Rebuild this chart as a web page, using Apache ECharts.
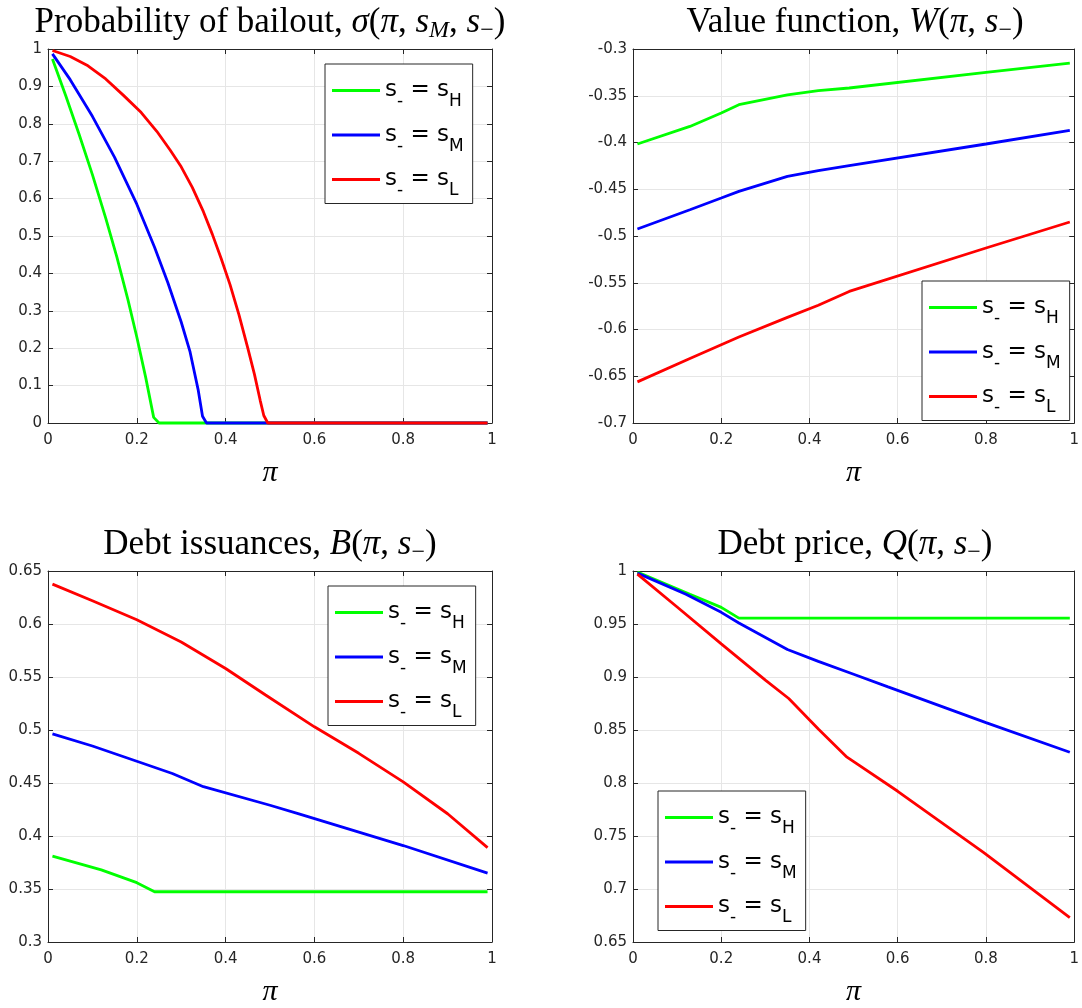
<!DOCTYPE html>
<html>
<head>
<meta charset="utf-8">
<title>Bailout model policy functions</title>
<script src="https://cdn.jsdelivr.net/npm/echarts@6/dist/echarts.min.js"></script>
</head>
<body style="margin:0;padding:0;">
<div id="main" style="width:1082px;height:1008px;"></div>
<script type="text/javascript">
// series names (s_- = s_H, s_M, s_L) and their colours
const states = ['H', 'M', 'L'];
const colors = ['#00ff00', '#0000ff', '#ff0000'];

// Probability of bailout, sigma(pi, s_M, s_-)
const sigmaH = [[0.01, 0.973], [0.04, 0.875], [0.07, 0.772], [0.1, 0.664], [0.13, 0.548], [0.155, 0.444], [0.18, 0.33], [0.2, 0.23], [0.22, 0.122], [0.238, 0.015], [0.25, 0], [0.99, 0]];
const sigmaM = [[0.01, 0.987], [0.05, 0.918], [0.1, 0.82], [0.15, 0.71], [0.2, 0.585], [0.24, 0.47], [0.27, 0.375], [0.3, 0.27], [0.32, 0.19], [0.338, 0.09], [0.348, 0.018], [0.357, 0], [0.99, 0]];
const sigmaL = [[0.01, 0.996], [0.05, 0.98], [0.09, 0.955], [0.13, 0.92], [0.17, 0.876], [0.21, 0.83], [0.245, 0.78], [0.275, 0.73], [0.3, 0.685], [0.325, 0.63], [0.35, 0.565], [0.37, 0.505], [0.39, 0.44], [0.41, 0.37], [0.43, 0.29], [0.45, 0.2], [0.465, 0.13], [0.478, 0.06], [0.486, 0.02], [0.495, 0], [0.99, 0]];

// Value function, W(pi, s_-)
const wH = [[0.01, -0.4016], [0.129, -0.3828], [0.2, -0.3685], [0.24, -0.3596], [0.35, -0.349], [0.42, -0.3446], [0.49, -0.3417], [0.8, -0.325], [0.99, -0.315]];
const wM = [[0.01, -0.4925], [0.129, -0.4719], [0.2, -0.4594], [0.24, -0.4523], [0.35, -0.4362], [0.42, -0.43], [0.49, -0.4248], [0.8, -0.4016], [0.99, -0.387]];
const wL = [[0.01, -0.656], [0.129, -0.631], [0.2, -0.6163], [0.24, -0.608], [0.35, -0.587], [0.42, -0.574], [0.49, -0.5593], [0.8, -0.5128], [0.99, -0.485]];

// Debt issuances, B(pi, s_-)
const bH = [[0.01, 0.381], [0.12, 0.368], [0.2, 0.356], [0.24, 0.3474], [0.99, 0.3474]];
const bM = [[0.01, 0.4964], [0.1, 0.4849], [0.2, 0.4705], [0.28, 0.459], [0.35, 0.4465], [0.5, 0.429], [0.567, 0.4206], [0.8, 0.391], [0.99, 0.365]];
const bL = [[0.01, 0.6376], [0.1, 0.622], [0.2, 0.604], [0.3, 0.583], [0.4, 0.558], [0.49, 0.533], [0.6, 0.503], [0.7, 0.478], [0.8, 0.451], [0.9, 0.421], [0.99, 0.389]];

// Debt price, Q(pi, s_-)
const qH = [[0.01, 0.999], [0.129, 0.978], [0.2, 0.9657], [0.24, 0.9555], [0.99, 0.9555]];
const qM = [[0.01, 0.998], [0.12, 0.978], [0.2, 0.961], [0.24, 0.951], [0.35, 0.926], [0.42, 0.9147], [0.5, 0.9026], [0.578, 0.8907], [0.8, 0.857], [0.99, 0.829]];
const qL = [[0.01, 0.997], [0.1, 0.966], [0.2, 0.9313], [0.3, 0.897], [0.353, 0.8797], [0.42, 0.851], [0.485, 0.8244], [0.6, 0.7922], [0.795, 0.7344], [0.99, 0.673]];

// axis ranges: [min, max, step]
const piRange = [0, 1, 0.2];
const sigmaRange = [0, 1, 0.1];
const wRange = [-0.7, -0.3, 0.05];
const bRange = [0.3, 0.65, 0.05];
const qRange = [0.65, 1, 0.05];

const panels = [
    {data: [sigmaH, sigmaM, sigmaL], y: sigmaRange, left: 48, top: 49,
     title: '{r|Probability of bailout, }{i|σ}{r|(}{i|π}{r|, }{i|s}{si|M}{r|, }{i|s}{sr|−}{r|)}',
     legend: [325, 64]},
    {data: [wH, wM, wL], y: wRange, left: 633, top: 49,
     title: '{r|Value function, }{i|W}{r|(}{i|π}{r|, }{i|s}{sr|−}{r|)}',
     legend: [922, 281]},
    {data: [bH, bM, bL], y: bRange, left: 48, top: 571,
     title: '{r|Debt issuances, }{i|B}{r|(}{i|π}{r|, }{i|s}{sr|−}{r|)}',
     legend: [328, 586]},
    {data: [qH, qM, qL], y: qRange, left: 633, top: 571,
     title: '{r|Debt price, }{i|Q}{r|(}{i|π}{r|, }{i|s}{sr|−}{r|)}',
     legend: [658, 791]}
];

const W = 444, H = 374;
const axisColor = '#262626';
const serif = 'Liberation Serif';
const sans = 'DejaVu Sans';

const titleRich = {
    r: {fontFamily: serif, fontWeight: 'normal', fontSize: 35, color: '#000', lineHeight: 40},
    i: {fontFamily: serif, fontWeight: 'normal', fontStyle: 'italic', fontSize: 35, color: '#000', lineHeight: 40},
    si: {fontFamily: serif, fontWeight: 'normal', fontStyle: 'italic', fontSize: 24, color: '#000', lineHeight: 27, verticalAlign: 'bottom'},
    sr: {fontFamily: serif, fontWeight: 'normal', fontSize: 24, color: '#000', lineHeight: 27, verticalAlign: 'bottom'}
};
const legendRich = {
    a: {fontFamily: sans, fontSize: 23, color: '#000', lineHeight: 40},
    b: {fontFamily: sans, fontSize: 17, color: '#000', lineHeight: 6, verticalAlign: 'bottom'}
};

let grid = [], xAxis = [], yAxis = [], series = [], title = [], legend = [];
panels.forEach((p, gi) => {
    grid.push({left: p.left, top: p.top, width: W, height: H});
    title.push({
        text: p.title, left: p.left + W / 2, top: p.top - 46, textAlign: 'center', padding: 0,
        textStyle: {fontWeight: 'normal', rich: titleRich}
    });
    const tick = {show: true, inside: true, length: 5, lineStyle: {color: axisColor, width: 1}};
    const line = {show: true, onZero: false, lineStyle: {color: axisColor, width: 1}};
    xAxis.push({
        gridIndex: gi, type: 'value', position: 'bottom',
        min: piRange[0], max: piRange[1], interval: piRange[2],
        axisLine: line, axisTick: tick,
        axisLabel: {margin: 10, fontFamily: sans, fontSize: 15, color: axisColor},
        splitLine: {show: true, lineStyle: {color: '#e6e6e6', width: 1}},
        name: 'π', nameLocation: 'middle', nameGap: 35,
        nameTextStyle: {fontFamily: serif, fontStyle: 'italic', fontSize: 30, color: '#000'}
    });
    xAxis.push({
        gridIndex: gi, type: 'value', position: 'top',
        min: piRange[0], max: piRange[1], interval: piRange[2],
        axisLine: line, axisTick: tick, axisLabel: {show: false}, splitLine: {show: false}
    });
    yAxis.push({
        gridIndex: gi, type: 'value', position: 'left',
        min: p.y[0], max: p.y[1], interval: p.y[2],
        axisLine: line, axisTick: tick,
        axisLabel: {margin: 6, fontFamily: sans, fontSize: 15, color: axisColor},
        splitLine: {show: true, lineStyle: {color: '#e6e6e6', width: 1}}
    });
    yAxis.push({
        gridIndex: gi, type: 'value', position: 'right',
        min: p.y[0], max: p.y[1], interval: p.y[2],
        axisLine: line, axisTick: tick, axisLabel: {show: false}, splitLine: {show: false}
    });
    p.data.forEach((d, k) => {
        series.push({
            name: states[k], type: 'line', xAxisIndex: 2 * gi, yAxisIndex: 2 * gi,
            data: d, symbol: 'none', clip: false, z: 3 + k,
            lineStyle: {color: colors[k], width: 2.8}, itemStyle: {color: colors[k]}
        });
    });
    legend.push({
        left: p.legend[0], top: p.legend[1], orient: 'vertical',
        data: states, icon: 'rect', itemWidth: 48, itemHeight: 3, itemGap: 13,
        padding: [15, 9, 4, 7], backgroundColor: '#fff',
        borderColor: axisColor, borderWidth: 1, borderRadius: 0,
        selectedMode: false,
        formatter: name => '{a|s}{b|-}{a| = s}{b|' + name + '}',
        textStyle: {rich: legendRich}
    });
});

let chart = echarts.init(document.getElementById('main'));
chart.setOption({
    animation: false,
    backgroundColor: '#fff',
    title: title,
    legend: legend,
    grid: grid,
    xAxis: xAxis,
    yAxis: yAxis,
    series: series
});
</script>
</body>
</html>
